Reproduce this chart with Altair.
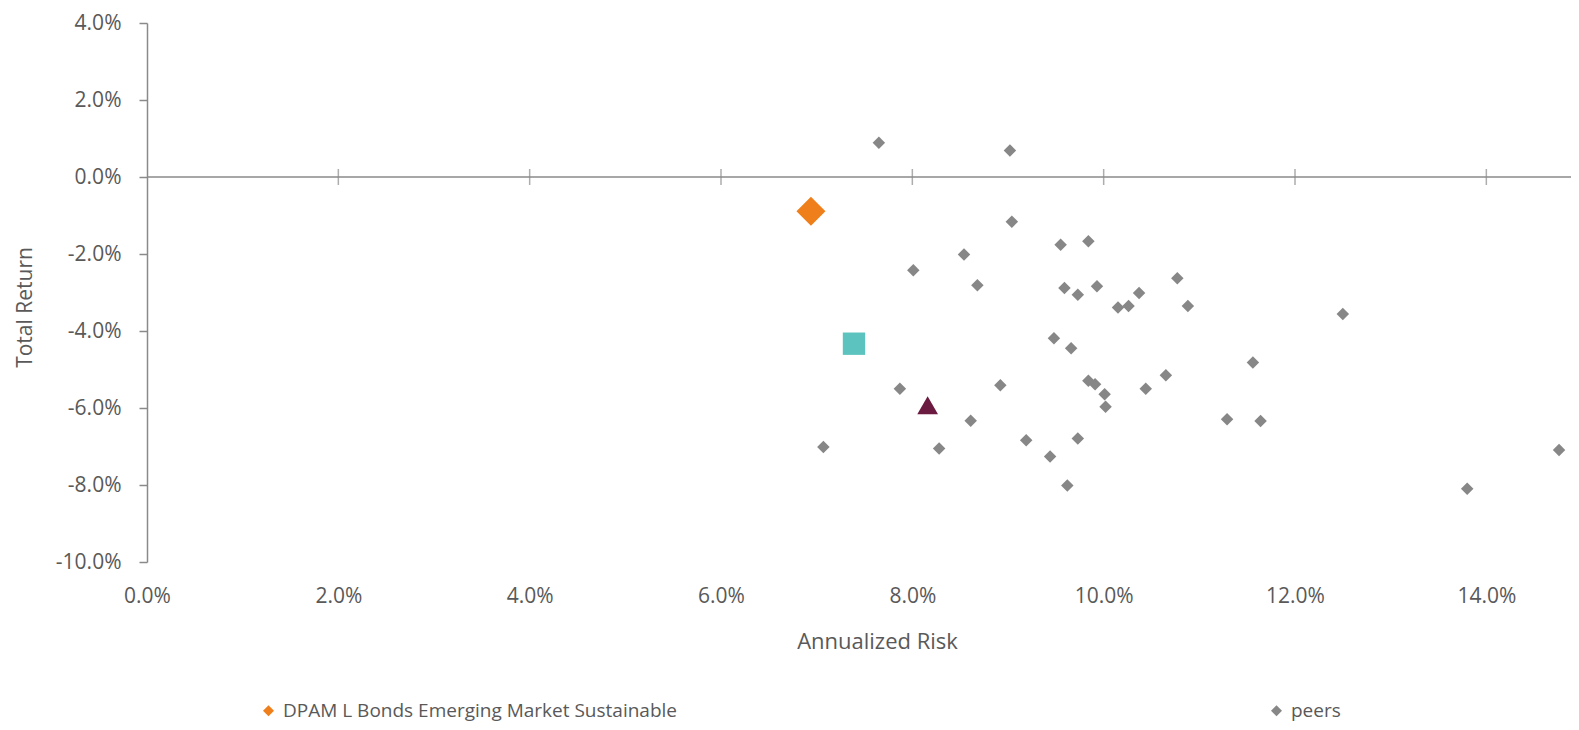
import altair as alt
import pandas as pd

FUND_NAME = "DPAM L Bonds Emerging Market Sustainable"
PEERS_NAME = "peers"

# values in percent
fund_risk = [6.94]
fund_return = [-0.89]

peer_risk = [7.65, 9.02, 9.04, 9.55, 9.84, 8.54, 8.01, 8.68, 9.59, 9.73,
             9.93, 10.15, 10.26, 10.37, 10.77, 10.88, 9.48, 9.66, 9.84, 9.91,
             10.01, 10.02, 10.44, 10.65, 7.87, 8.92, 8.61, 7.07, 8.28, 9.19,
             9.73, 9.44, 9.62, 12.50, 11.56, 11.29, 11.64, 14.76, 13.80]
peer_return = [0.89, 0.69, -1.16, -1.76, -1.67, -2.01, -2.42, -2.81, -2.88, -3.06,
               -2.84, -3.39, -3.35, -3.01, -2.63, -3.35, -4.19, -4.45, -5.29, -5.38,
               -5.64, -5.97, -5.50, -5.15, -5.50, -5.41, -6.33, -7.01, -7.05, -6.84,
               -6.79, -7.26, -8.01, -3.56, -4.82, -6.29, -6.34, -7.09, -8.10]

square_risk = [7.39]
square_return = [-4.33]
triangle_risk = [8.16]
triangle_return = [-5.93]

x_tick_values = [0, 2, 4, 6, 8, 10, 12, 14]
y_tick_values = [-10, -8, -6, -4, -2, 0, 2, 4]
zero_level = [0]

ORANGE = "#EE7F1B"
GRAY = "#878787"
TEAL = "#5CC3BE"
MAROON = "#6B1A40"
AXIS_GRAY = "#8A8A8A"
TEXT_GRAY = "#595959"
FONT = "Open Sans"

LABEL_EXPR = "(datum.value < 0 ? '-' : '') + format(abs(datum.value), '.1f') + '%'"

fund_df = pd.DataFrame({"risk": fund_risk, "ret": fund_return,
                        "series": [FUND_NAME] * len(fund_risk)})
peers_df = pd.DataFrame({"risk": peer_risk, "ret": peer_return,
                         "series": [PEERS_NAME] * len(peer_risk)})
square_df = pd.DataFrame({"risk": square_risk, "ret": square_return})
triangle_df = pd.DataFrame({"risk": triangle_risk, "ret": triangle_return})
zero_df = pd.DataFrame({"ret": zero_level})
cross_df = pd.DataFrame({"risk": x_tick_values[1:], "ret": zero_level * len(x_tick_values[1:])})

xscale = alt.Scale(domain=[0, 14.885], nice=False, zero=False)
yscale = alt.Scale(domain=[-10, 4], nice=False, zero=False)

xaxis = alt.Axis(
    values=x_tick_values, labelExpr=LABEL_EXPR,
    domain=False, ticks=False, tickSize=0, grid=False,
    labelFont=FONT, labelFontSize=21, labelColor=TEXT_GRAY,
    labelPadding=34, labelBaseline="middle", labelFlush=False,
    title="Annualized Risk", titleFont=FONT, titleFontSize=22,
    titleFontWeight="normal", titleColor=TEXT_GRAY,
    titleX=730, titleY=79, titleAlign="center", titleBaseline="middle",
)
yaxis = alt.Axis(
    values=y_tick_values, labelExpr=LABEL_EXPR,
    domain=True, domainColor=AXIS_GRAY, domainWidth=1.5,
    ticks=True, tickSize=8, tickColor=AXIS_GRAY, tickWidth=1.5, grid=False,
    labelFont=FONT, labelFontSize=21, labelColor=TEXT_GRAY,
    labelPadding=18, labelFlush=False,
    title="Total Return", titleFont=FONT, titleFontSize=21,
    titleFontWeight="normal", titleColor=TEXT_GRAY,
    titleX=-122, titleY=284, titleAngle=270, titleAlign="center", titleBaseline="middle",
)


def xy():
    return dict(
        x=alt.X("risk:Q", scale=xscale, axis=xaxis),
        y=alt.Y("ret:Q", scale=yscale, axis=yaxis),
    )


series_color = alt.Color(
    "series:N",
    scale=alt.Scale(domain=[FUND_NAME, PEERS_NAME], range=[ORANGE, GRAY]),
    legend=alt.Legend(
        title=None, orient="none", legendX=112, legendY=678,
        direction="horizontal", columns=2, columnPadding=590,
        symbolSize=120, symbolType="diamond", symbolStrokeWidth=0,
        labelFont=FONT, labelFontSize=19, labelColor=TEXT_GRAY,
        labelOffset=5, labelLimit=0, padding=0,
    ),
)

zero_rule = alt.Chart(zero_df).mark_rule(color=AXIS_GRAY, strokeWidth=1.5).encode(
    y=alt.Y("ret:Q", scale=yscale, axis=yaxis)
)

cross_ticks = alt.Chart(cross_df).mark_tick(
    orient="vertical", size=16, thickness=1.5, color=AXIS_GRAY
).encode(**xy())

peers = alt.Chart(peers_df).mark_point(
    filled=True, shape="diamond", size=156, opacity=1
).encode(**xy(), color=series_color)

fund = alt.Chart(fund_df).mark_point(
    filled=True, shape="diamond", size=841, opacity=1
).encode(**xy(), color=series_color)

square = alt.Chart(square_df).mark_point(
    filled=True, shape="square", size=500, color=TEAL, opacity=1
).encode(**xy())

triangle = alt.Chart(triangle_df).mark_point(
    filled=True, shape="triangle-up", size=430, color=MAROON, opacity=1
).encode(**xy())

chart = alt.layer(zero_rule, cross_ticks, square, triangle, peers, fund).properties(
    width=1424,
    height=539,
    autosize=alt.AutoSizeParams(type="none"),
    padding={"left": 139, "top": 15, "right": 0, "bottom": 160},
).configure_view(stroke="transparent")

chart.save("out.html", embed_options={"renderer": "svg", "actions": False})
